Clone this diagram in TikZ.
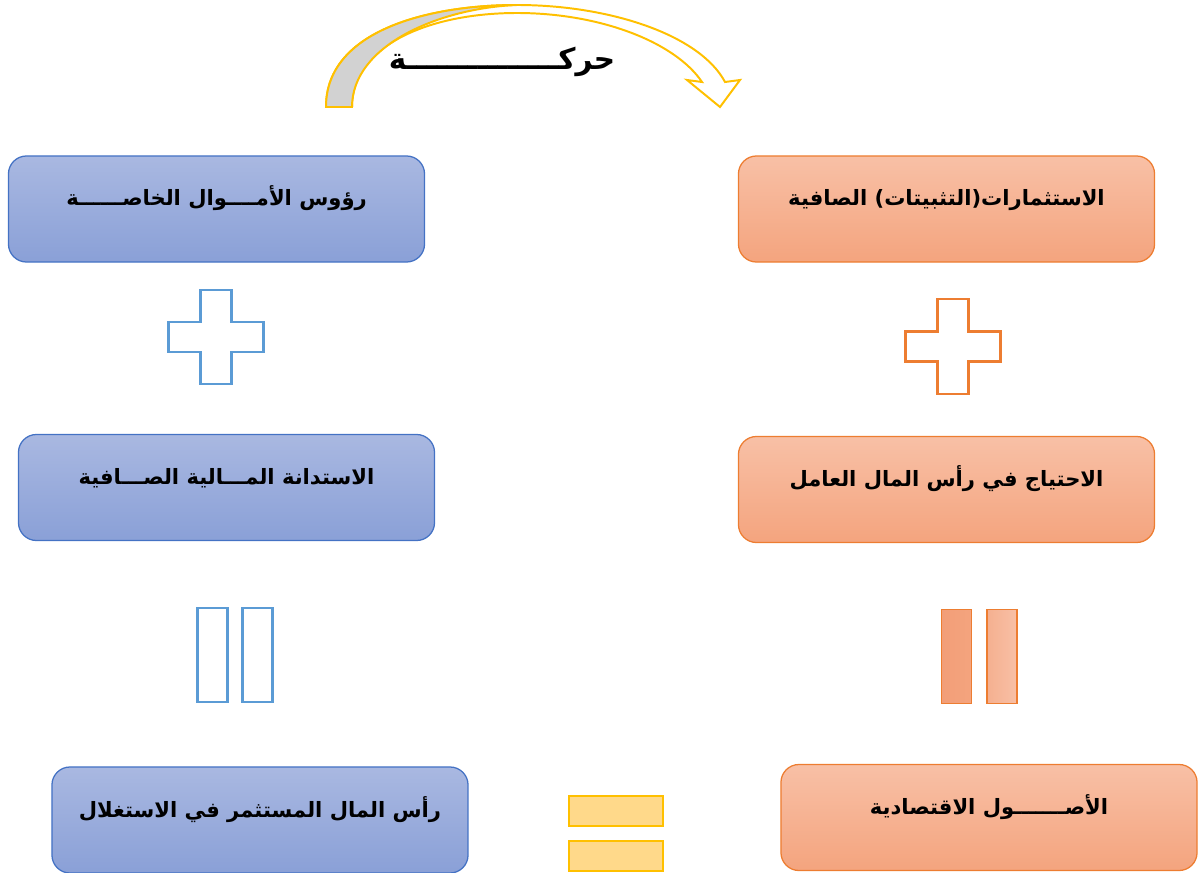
\documentclass[tikz,border=0pt]{standalone}
\usepackage{fontspec}
\newfontfamily\arabicfont[Script=Arabic,BoldFont=DejaVu Sans Bold]{DejaVu Sans}
\TeXXeTstate=1
\usetikzlibrary{shapes,arrows,positioning}

\definecolor{boxblue}{HTML}{4472C4}
\definecolor{bluetop}{HTML}{A9B8E1}
\definecolor{bluebot}{HTML}{8AA0D7}
\definecolor{signblue}{HTML}{5B9BD5}
\definecolor{boxorange}{HTML}{ED7D31}
\definecolor{orangetop}{HTML}{F8C0A6}
\definecolor{orangebot}{HTML}{F4A47E}
\definecolor{bardark}{HTML}{F29E78}
\definecolor{barmid}{HTML}{F5B090}
\definecolor{gold}{HTML}{FFC000}
\definecolor{lightgold}{HTML}{FFD98A}

\begin{document}
\begin{tikzpicture}[
  x=0.025cm,
  y=-0.025cm,
  box/.style={
    rectangle,
    rounded corners=0.45cm,
    line width=0.9pt,
    minimum width=10.4cm,
    minimum height=2.65cm,
    text height=0.45cm,
    text depth=0.6cm,
    font=\arabicfont\bfseries\fontsize{15}{18}\selectfont,
    text=black,
    text centered
  },
  bluebox/.style={
    box,
    draw=boxblue,
    top color=bluetop,
    bottom color=bluebot
  },
  orangebox/.style={
    box,
    draw=boxorange,
    top color=orangetop,
    bottom color=orangebot
  },
  bar/.style={
    rectangle,
    minimum width=0.75cm,
    minimum height=2.35cm,
    inner sep=0pt
  },
  bluebar/.style={bar, draw=signblue, line width=2pt, fill=white},
  orangebar/.style={bar, draw=boxorange, line width=1.2pt},
  goldbar/.style={
    rectangle,
    draw=gold,
    line width=1.2pt,
    fill=lightgold,
    minimum width=2.35cm,
    minimum height=0.75cm,
    inner sep=0pt
  },
  cross/.style={line width=2pt, line join=miter}
]

\useasboundingbox (0,0) rectangle (1202,873);

\draw[gold, line width=1.4pt, fill=white]
  (326,107) .. controls (326,30) and (430,5) .. (517,5)
  .. controls (610,5) and (700,35) .. (725,82)
  -- (740,80) -- (720,107) -- (687,80) -- (702,82)
  .. controls (675,42) and (600,13) .. (517,13)
  .. controls (430,13) and (352,45) .. (352,107) -- cycle;
\draw[gold, line width=1.4pt, fill=gray!35]
  (326,107) .. controls (326,30) and (430,5) .. (517,5)
  .. controls (440,8) and (352,45) .. (352,107) -- cycle;
\node[font=\arabicfont\bfseries\fontsize{21}{24}\selectfont] (motion) at (502,62) {\beginR حركـــــــــــــــة\endR};

\node[bluebox] (equity) at (216.5,209) {\beginR رؤوس الأمــــوال الخاصــــــة\endR};
\node[orangebox] (fixedassets) at (946.5,209) {\beginR الاستثمارات(التثبيتات) الصافية\endR};
\node[bluebox] (netdebt) at (226.5,487.5) {\beginR الاستدانة المـــالية الصـــافية\endR};
\node[orangebox] (wcneed) at (946.5,489.5) {\beginR الاحتياج في رأس المال العامل\endR};
\node[bluebox] (capemployed) at (260,820) {\beginR رأس المال المستثمر في الاستغلال\endR};
\node[orangebox] (econassets) at (989,817.5) {\beginR الأصـــــــول الاقتصادية\endR};

\coordinate (plusL) at (216.3,337);
\coordinate (plusR) at (953.3,346.5);
\draw[cross, signblue] (plusL) ++(-15.5,-47) -- ++(31,0) -- ++(0,32) -- ++(32,0) -- ++(0,30)
  -- ++(-32,0) -- ++(0,32) -- ++(-31,0) -- ++(0,-32) -- ++(-32,0) -- ++(0,-30) -- ++(32,0) -- cycle;
\draw[cross, boxorange] (plusR) ++(-15.5,-47.5) -- ++(31,0) -- ++(0,32.5) -- ++(32,0) -- ++(0,30)
  -- ++(-32,0) -- ++(0,32.5) -- ++(-31,0) -- ++(0,-32.5) -- ++(-32,0) -- ++(0,-30) -- ++(32,0) -- cycle;

\node[bluebar] (eqL1) at (212.2,655) {};
\node[bluebar] (eqL2) at (257.5,655) {};
\node[orangebar, left color=bardark, right color=orangebot] (eqR1) at (956.5,656.5) {};
\node[orangebar, left color=barmid, right color=orangetop] (eqR2) at (1002.3,656.5) {};
\node[goldbar] (eqM1) at (615.7,811) {};
\node[goldbar] (eqM2) at (615.7,856.3) {};

\end{tikzpicture}
\end{document}
